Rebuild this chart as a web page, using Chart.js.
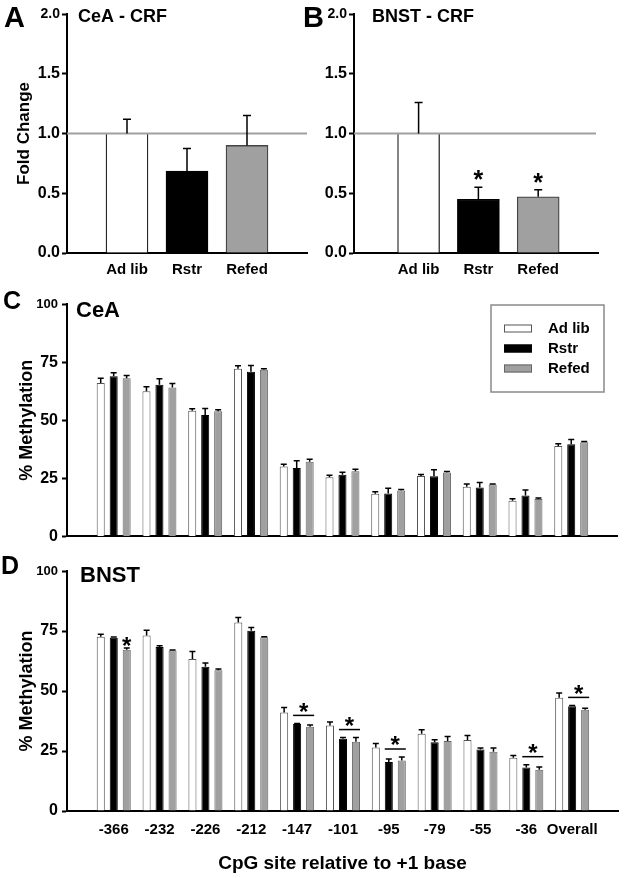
<!DOCTYPE html>
<html><head><meta charset="utf-8">
<script src="https://cdn.jsdelivr.net/npm/chart.js@4"></script>
<style>
html,body{margin:0;padding:0;background:#fff;}
body{width:624px;height:878px;position:relative;overflow:hidden;font-family:'Liberation Sans',Arial,sans-serif;}
.wrap{position:absolute;}
.letter{position:absolute;font-weight:bold;line-height:1;color:#000;font-family:'Liberation Sans',Arial,sans-serif;}
</style></head><body>
<div class="wrap" style="left:0;top:0;width:310px;height:285px"><canvas id="cA"></canvas></div>
<div class="wrap" style="left:310px;top:0;width:314px;height:285px"><canvas id="cB"></canvas></div>
<div class="wrap" style="left:0;top:285px;width:624px;height:265px"><canvas id="cC"></canvas></div>
<div class="wrap" style="left:0;top:550px;width:624px;height:328px"><canvas id="cD"></canvas></div>
<div class="letter" style="left:4px;top:3px;font-size:29px">A</div>
<div class="letter" style="left:303px;top:3px;font-size:29px">B</div>
<div class="letter" style="left:3px;top:288px;font-size:25px">C</div>
<div class="letter" style="left:1px;top:553px;font-size:25px">D</div>
<script>
// ---------- data ----------
const groups = ['Ad lib', 'Rstr', 'Refed'];
const foldCeA = [1.0, 0.685, 0.90];
const foldCeAErr = [0.12, 0.19, 0.25];
const foldBNST = [1.0, 0.45, 0.47];
const foldBNSTErr = [0.26, 0.10, 0.06];
const foldBNSTSig = [false, true, true];

const sites = ['-366', '-232', '-226', '-212', '-147', '-101', '-95', '-79', '-55', '-36', 'Overall'];
const ceaAdlib    = [66.0, 62.5, 54.1, 72.1, 30.1, 25.5, 18.3, 26.0, 21.4, 15.3, 38.9];
const ceaAdlibErr = [2.1, 1.9, 0.8, 1.3, 0.9, 0.8, 0.9, 0.6, 1.1, 0.9, 1.0];
const ceaRstr     = [68.9, 65.3, 52.2, 70.9, 29.4, 26.5, 18.5, 25.9, 21.0, 17.6, 39.6];
const ceaRstrErr  = [1.5, 2.5, 2.8, 2.6, 3.2, 1.1, 2.2, 2.8, 2.2, 2.4, 2.1];
const ceaRefed    = [68.1, 64.1, 53.8, 71.7, 32.1, 28.0, 19.7, 27.5, 22.3, 16.1, 40.5];
const ceaRefedErr = [1.1, 1.7, 0.7, 0.4, 1.1, 0.9, 0.5, 0.4, 0.2, 0.4, 0.3];

const bnstAdlib    = [72.6, 73.1, 63.3, 78.5, 41.0, 35.6, 26.5, 32.2, 29.6, 22.2, 47.2];
const bnstAdlibErr = [1.0, 2.2, 3.2, 2.1, 2.1, 1.5, 1.6, 1.7, 1.9, 0.9, 2.0];
const bnstRstr     = [72.2, 68.3, 60.1, 75.1, 36.3, 30.1, 20.4, 28.6, 25.6, 18.1, 43.6];
const bnstRstrErr  = [0.3, 0.6, 1.6, 1.4, 0.2, 0.5, 1.3, 1.1, 0.7, 1.2, 0.4];
const bnstRefed    = [67.2, 66.9, 58.6, 72.4, 35.1, 28.9, 21.0, 29.2, 24.7, 17.2, 42.2];
const bnstRefedErr = [0.7, 0.2, 0.6, 0.2, 0.7, 1.7, 1.5, 1.8, 1.6, 1.1, 0.6];
const bnstSigPairs = [4, 5, 6, 9, 10];   // Rstr & Refed vs Ad lib
const bnstSigRefed = [0];                // Refed only

const foldTicks = [0, 0.5, 1.0, 1.5, 2.0];
const methTicks = [0, 25, 50, 75, 100];

// ---------- style ----------
const FAM = "'Liberation Sans', Arial, sans-serif";
const WHITE = '#ffffff', BLACK = '#000000', GRAY = '#a0a0a0';
const pts = (arr) => arr.map((v, i) => ({x: i, y: v}));

const errorBars = {
  id: 'errorBars',
  afterDatasetsDraw(chart, args, opts) {
    const ctx = chart.ctx, ys = chart.scales.y;
    chart.data.datasets.forEach((ds, di) => {
      if (!ds.errors) return;
      const meta = chart.getDatasetMeta(di);
      meta.data.forEach((bar, i) => {
        const v = ds.data[i].y;
        const top = ys.getPixelForValue(v + ds.errors[i]);
        ctx.save();
        ctx.strokeStyle = '#000';
        ctx.lineWidth = opts.lineWidth || 1.5;
        ctx.beginPath();
        ctx.moveTo(bar.x, bar.y); ctx.lineTo(bar.x, top);
        ctx.moveTo(bar.x - opts.cap, top); ctx.lineTo(bar.x + opts.cap, top);
        ctx.stroke();
        ctx.restore();
      });
    });
  }
};

const refLine = {
  id: 'refLine',
  afterDatasetsDraw(chart, args, opts) {
    if (opts.value === undefined) return;
    const ctx = chart.ctx, a = chart.chartArea;
    const y = chart.scales.y.getPixelForValue(opts.value);
    ctx.save();
    ctx.strokeStyle = '#a0a0a0'; ctx.lineWidth = 2;
    ctx.beginPath(); ctx.moveTo(a.left, y); ctx.lineTo(a.right - (opts.trim || 0), y); ctx.stroke();
    ctx.restore();
  }
};

const panelTitle = {
  id: 'panelTitle',
  afterDraw(chart, args, opts) {
    if (!opts.text) return;
    const ctx = chart.ctx, a = chart.chartArea;
    ctx.save();
    ctx.font = 'bold ' + opts.size + 'px ' + FAM;
    ctx.fillStyle = '#000'; ctx.textBaseline = 'middle'; ctx.textAlign = 'left';
    ctx.fillText(opts.text, a.left + opts.dx, opts.y);
    ctx.restore();
  }
};

function drawStar(ctx, x, yCenter, size) {
  ctx.save();
  ctx.font = 'bold ' + size + 'px ' + FAM;
  ctx.fillStyle = '#000'; ctx.textAlign = 'center'; ctx.textBaseline = 'alphabetic';
  ctx.fillText('*', x, yCenter + size * 0.56);
  ctx.restore();
}

const sigMarks = {
  id: 'sigMarks',
  afterDatasetsDraw(chart, args, opts) {
    const ctx = chart.ctx, ys = chart.scales.y;
    const errTop = (di, i) => {
      const ds = chart.data.datasets[di];
      return ys.getPixelForValue(ds.data[i].y + ds.errors[i]);
    };
    (opts.single || []).forEach(([di, i]) => {
      const bar = chart.getDatasetMeta(di).data[i];
      drawStar(ctx, bar.x, errTop(di, i) - opts.gap, opts.size);
    });
    (opts.pairs || []).forEach((i) => {
      const b1 = chart.getDatasetMeta(1).data[i], b2 = chart.getDatasetMeta(2).data[i];
      const y = Math.min(errTop(1, i), errTop(2, i)) - opts.lineGap;
      const x1 = b1.x - b1.width / 2, x2 = b2.x + b2.width / 2;
      ctx.save();
      ctx.strokeStyle = '#000'; ctx.lineWidth = 1.5;
      ctx.beginPath(); ctx.moveTo(x1, y); ctx.lineTo(x2, y); ctx.stroke();
      ctx.restore();
      drawStar(ctx, (x1 + x2) / 2, y - 9, opts.size);
    });
  }
};

const boxLegend = {
  id: 'boxLegend',
  afterDraw(chart, args, opts) {
    if (!opts.show) return;
    const ctx = chart.ctx, a = chart.chartArea;
    const w = 113, h = 87;
    const x0 = a.right - opts.dxRight - w, y0 = a.top + opts.dy;
    ctx.save();
    ctx.strokeStyle = '#8a8a8a'; ctx.lineWidth = 1.5;
    ctx.strokeRect(x0, y0, w, h);
    ctx.font = 'bold 15px ' + FAM; ctx.textBaseline = 'middle'; ctx.textAlign = 'left';
    chart.data.datasets.forEach((ds, i) => {
      const cy = y0 + 23.5 + i * 20;
      ctx.fillStyle = ds.backgroundColor;
      ctx.fillRect(x0 + 13, cy - 4, 28, 8);
      ctx.strokeStyle = ds.borderColor; ctx.lineWidth = 1;
      ctx.strokeRect(x0 + 13.5, cy - 3.5, 27, 7);
      ctx.fillStyle = '#000';
      ctx.fillText(ds.label, x0 + 57, cy);
    });
    ctx.restore();
  }
};

Chart.register(refLine, errorBars, sigMarks, panelTitle, boxLegend);
Chart.defaults.font.family = FAM;
Chart.defaults.color = '#000';
Chart.defaults.animation = false;

function foldChart(id, values, errs, opt) {
  return new Chart(document.getElementById(id), {
    type: 'bar',
    data: {
      datasets: [{
        data: pts(values),
        errors: errs,
        backgroundColor: [WHITE, BLACK, GRAY],
        borderColor: ['#222', '#000', '#444'],
        borderWidth: [{left: 1.3, right: 1.3, top: 0, bottom: 0}, 1.3, 1.3],
        barThickness: 42
      }]
    },
    options: {
      responsive: true, maintainAspectRatio: false,
      layout: {padding: {top: 14, right: opt.padRight, left: 0, bottom: 0}},
      plugins: {
        legend: {display: false}, tooltip: {enabled: false},
        refLine: {value: 1.0, trim: opt.trim},
        errorBars: {cap: 4, lineWidth: 1.5},
        sigMarks: {single: opt.sig ? opt.sig.map((s, i) => s ? [0, i] : null).filter(Boolean) : [], gap: 13, size: 25},
        panelTitle: {text: opt.title, dx: opt.titleDx, y: 17, size: 18},
        boxLegend: {show: false}
      },
      scales: {
        x: {
          type: 'linear', min: opt.xmin, max: 3, offset: false,
          grid: {display: false},
          border: {display: true, color: '#000', width: 2},
          afterBuildTicks: (s) => { s.ticks = groups.map((g, i) => ({value: i})); },
          ticks: {autoSkip: false, maxRotation: 0, padding: 0, font: {size: 15, weight: 'bold'}, color: '#000',
                  callback: (v) => groups[v]},
          afterFit: (s) => { s.height = 32; }
        },
        y: {
          min: 0, max: 2,
          afterBuildTicks: (s) => { s.ticks = foldTicks.map(v => ({value: v})); },
          ticks: {padding: 2, color: '#000', callback: (v) => v.toFixed(1),
                  font: (c) => ({family: FAM, weight: 'bold', size: (c.tick && c.tick.value === 2) ? 14 : 16})},
          grid: {drawOnChartArea: false, tickLength: 5, tickWidth: 2, tickColor: '#000', color: '#000'},
          border: {display: true, color: '#000', width: 2},
          title: {display: opt.yTitle, text: 'Fold Change', color: '#000', font: {size: 17, weight: 'bold'}, padding: {top: 14, bottom: 0}},
          afterFit: (s) => { s.width = opt.yWidth; }
        }
      }
    }
  });
}

foldChart('cA', foldCeA, foldCeAErr, {padRight: 3, xmin: -1, yWidth: 67, yTitle: true, title: 'CeA - CRF', titleDx: 11, trim: 0});
foldChart('cB', foldBNST, foldBNSTErr, {padRight: 26, xmin: -1.08, yWidth: 44, yTitle: false, title: 'BNST - CRF', titleDx: 18, trim: 2, sig: foldBNSTSig});

function methChart(id, a, ae, r, re, f, fe, opt) {
  return new Chart(document.getElementById(id), {
    type: 'bar',
    data: {
      datasets: [
        {label: 'Ad lib', data: pts(a), errors: ae, backgroundColor: WHITE, borderColor: '#555', borderWidth: 1},
        {label: 'Rstr', data: pts(r), errors: re, backgroundColor: BLACK, borderColor: '#000', borderWidth: 1},
        {label: 'Refed', data: pts(f), errors: fe, backgroundColor: GRAY, borderColor: '#666', borderWidth: 1}
      ]
    },
    options: {
      responsive: true, maintainAspectRatio: false,
      datasets: {bar: {categoryPercentage: 0.85, barPercentage: 0.62}},
      layout: {padding: {top: opt.padTop, right: opt.padRight, left: 0, bottom: 0}},
      plugins: {
        legend: {display: false}, tooltip: {enabled: false},
        refLine: {},
        errorBars: {cap: 3, lineWidth: 1.5},
        sigMarks: opt.sig || {},
        panelTitle: {text: opt.title, dx: opt.titleDx, y: opt.titleY, size: 22},
        boxLegend: {show: opt.legend, dxRight: 13, dy: 1}
      },
      scales: {
        x: {
          type: 'linear', min: -1.02, max: 11, offset: false,
          grid: {display: false},
          border: {display: true, color: '#000', width: 2},
          afterBuildTicks: (s) => { s.ticks = sites.map((g, i) => ({value: i})); },
          ticks: {display: opt.xLabels, autoSkip: false, maxRotation: 0, padding: 2, font: {size: 15, weight: 'bold'}, color: '#000',
                  callback: (v) => sites[v]},
          title: {display: opt.xLabels, text: 'CpG site relative to +1 base', color: '#000', font: {size: 19, weight: 'bold'}, padding: {top: 0, bottom: 3}},
          afterFit: (s) => { s.height = opt.xHeight; }
        },
        y: {
          min: 0, max: 100,
          afterBuildTicks: (s) => { s.ticks = methTicks.map(v => ({value: v})); },
          ticks: {padding: 4, color: '#000',
                  font: (c) => ({family: FAM, weight: 'bold', size: (c.tick && c.tick.value === 100) ? 13 : 16})},
          grid: {drawOnChartArea: false, tickLength: 5, tickWidth: 2, tickColor: '#000', color: '#000'},
          border: {display: true, color: '#000', width: 2},
          title: {display: true, text: '% Methylation', color: '#000', font: {size: 18, weight: 'bold'}, padding: {top: 16, bottom: 0}},
          afterFit: (s) => { s.width = 67; }
        }
      }
    }
  });
}

methChart('cC', ceaAdlib, ceaAdlibErr, ceaRstr, ceaRstrErr, ceaRefed, ceaRefedErr,
  {padTop: 19, padRight: 7, xLabels: false, xHeight: 8, legend: true, title: 'CeA', titleDx: 9, titleY: 26});
methChart('cD', bnstAdlib, bnstAdlibErr, bnstRstr, bnstRstrErr, bnstRefed, bnstRefedErr,
  {padTop: 21, padRight: 6, xLabels: true, xHeight: 67, legend: false, title: 'BNST', titleDx: 13, titleY: 26,
   sig: {pairs: bnstSigPairs, single: bnstSigRefed.map(i => [2, i]), gap: 7, lineGap: 8, size: 24}});
</script>
</body></html>
